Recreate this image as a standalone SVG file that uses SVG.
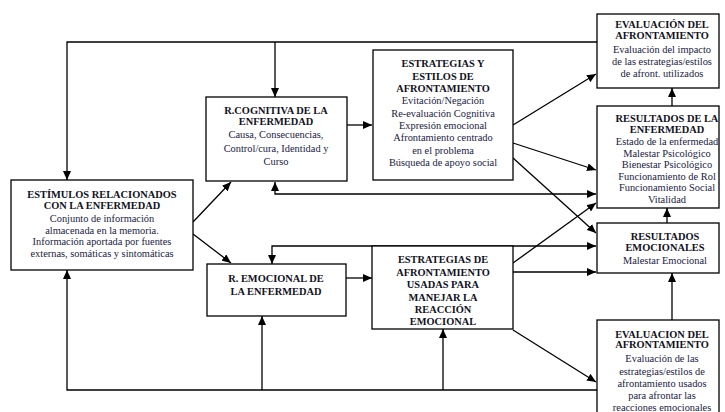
<svg xmlns="http://www.w3.org/2000/svg" width="725" height="412" viewBox="0 0 725 412">
<style>
rect.box{fill:#fff;stroke:#000;stroke-width:1.3}
.c{fill:none;stroke:#000;stroke-width:1.3;marker-end:url(#ah)}
.cb{fill:none;stroke:#000;stroke-width:1.3;marker-start:url(#ah);marker-end:url(#ah)}
text{font-family:"Liberation Serif","Times New Roman",serif;font-size:10.4px;text-anchor:middle;fill:#1a1a40}
text.h{font-weight:bold;fill:#111122}
</style>
<defs>
<marker id="ah" markerUnits="userSpaceOnUse" markerWidth="10" markerHeight="8" refX="9" refY="4" orient="auto-start-reverse"><path d="M0,0 L9,4 L0,8 z" fill="#000"/></marker>
</defs>
<rect width="725" height="412" fill="#fff"/>
<g id="connectors">
<path class="c" d="M597,42 H67 V180"/>
<path class="c" d="M275,42 V97"/>
<path class="c" d="M193,222 L231,182"/>
<path class="c" d="M193,234 L231,263"/>
<path class="c" d="M347,125 H372"/>
<path class="c" d="M346,278 H372"/>
<path class="c" d="M513,125 L596,74"/>
<path class="c" d="M513,143 L596,170"/>
<path class="c" d="M513,158 L596,233"/>
<path class="c" d="M513,263 L596,203"/>
<path class="cb" d="M275,182 V194 H596"/>
<path class="cb" d="M272,264 V246 H596"/>
<path class="c" d="M513,272 H596"/>
<path class="c" d="M672,106 V88"/>
<path class="c" d="M667,223 V208"/>
<path class="c" d="M672,320 V273"/>
<path class="c" d="M597,390 H67 V270"/>
<path class="c" d="M262,390 V316"/>
<path class="c" d="M443,390 V329"/>
<path class="c" d="M513,330 L596,382"/>
</g>
<g id="estimulos">
<rect class="box" x="11" y="180" width="182" height="90"/>
<text class="h" x="102" y="198">ESTÍMULOS RELACIONADOS</text>
<text class="h" x="102" y="209">CON LA ENFERMEDAD</text>
<text x="102" y="222">Conjunto de información</text>
<text x="102" y="234">almacenada en la memoria.</text>
<text x="102" y="245">Información aportada por fuentes</text>
<text x="102" y="257">externas, somáticas y sintomáticas</text>
</g>
<g id="rcognitiva">
<rect class="box" x="206" y="97" width="141" height="84"/>
<text class="h" x="276" y="114">R.COGNITIVA DE LA</text>
<text class="h" x="276" y="125">ENFERMEDAD</text>
<text x="276" y="138">Causa, Consecuencias,</text>
<text x="276" y="152">Control/cura, Identidad y</text>
<text x="276" y="165">Curso</text>
</g>
<g id="remocional">
<rect class="box" x="207" y="264" width="139" height="52"/>
<text class="h" x="276" y="282">R. EMOCIONAL DE</text>
<text class="h" x="276" y="295">LA ENFERMEDAD</text>
</g>
<g id="estrategias-estilos">
<rect class="box" x="373" y="50" width="140" height="130"/>
<text class="h" x="443" y="67">ESTRATEGIAS Y</text>
<text class="h" x="443" y="80">ESTILOS DE</text>
<text class="h" x="443" y="92">AFRONTAMIENTO</text>
<text x="443" y="104">Evitación/Negación</text>
<text x="443" y="117">Re-evaluación Cognitiva</text>
<text x="443" y="129">Expresión emocional</text>
<text x="443" y="141">Afrontamiento centrado</text>
<text x="443" y="154">en el problema</text>
<text x="443" y="166">Búsqueda de apoyo social</text>
</g>
<g id="estrategias-usadas">
<rect class="box" x="372" y="246" width="141" height="83"/>
<text class="h" x="443" y="263">ESTRATEGIAS DE</text>
<text class="h" x="443" y="276">AFRONTAMIENTO</text>
<text class="h" x="443" y="288">USADAS PARA</text>
<text class="h" x="443" y="301">MANEJAR LA</text>
<text class="h" x="443" y="313">REACCIÓN</text>
<text class="h" x="443" y="325">EMOCIONAL</text>
</g>
<g id="evaluacion-top">
<rect class="box" x="597" y="14" width="122" height="74"/>
<text class="h" x="662" y="28">EVALUACIÓN DEL</text>
<text class="h" x="662" y="39">AFRONTAMIENTO</text>
<text x="662" y="53">Evaluación del impacto</text>
<text x="662" y="65">de las estrategias/estilos</text>
<text x="662" y="77">de afront.  utilizados</text>
</g>
<g id="resultados-enfermedad">
<rect class="box" x="597" y="106" width="122" height="102"/>
<text class="h" x="667" y="122">RESULTADOS DE LA</text>
<text class="h" x="667" y="133">ENFERMEDAD</text>
<text x="667" y="145">Estado de la enfermedad</text>
<text x="667" y="157">Malestar Psicológico</text>
<text x="667" y="168">Bienestar Psicológico</text>
<text x="667" y="180">Funcionamiento de Rol</text>
<text x="667" y="191">Funcionamiento Social</text>
<text x="667" y="203">Vitalidad</text>
</g>
<g id="resultados-emocionales">
<rect class="box" x="597" y="223" width="122" height="50"/>
<text class="h" x="665" y="240">RESULTADOS</text>
<text class="h" x="665" y="251">EMOCIONALES</text>
<text x="665" y="264">Malestar Emocional</text>
</g>
<g id="evaluacion-bottom">
<rect class="box" x="597" y="320" width="122" height="100"/>
<text class="h" x="662" y="338">EVALUACION DEL</text>
<text class="h" x="662" y="348">AFRONTAMIENTO</text>
<text x="662" y="362">Evaluación de las</text>
<text x="662" y="375">estrategias/estilos de</text>
<text x="662" y="387">afrontamiento usados</text>
<text x="662" y="399">para afrontar las</text>
<text x="662" y="411">reacciones emocionales</text>
</g>
</svg>
